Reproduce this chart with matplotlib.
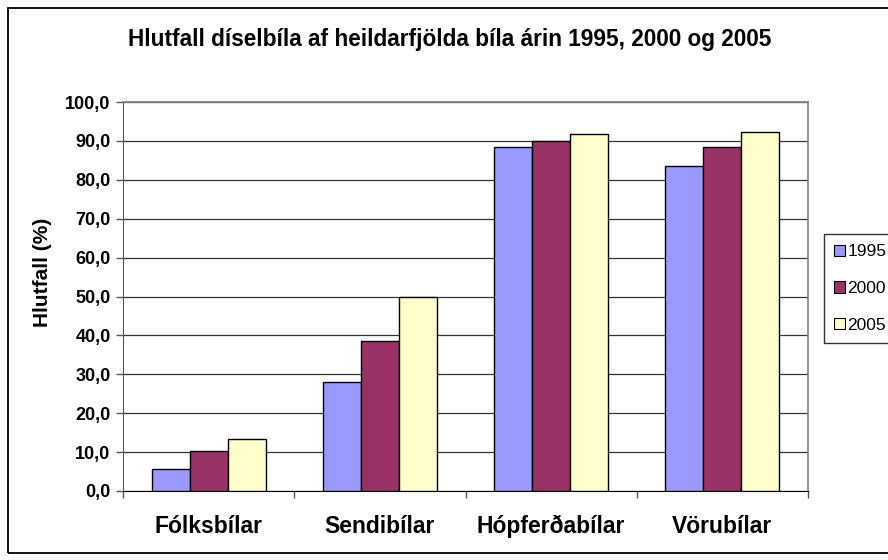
import numpy as np
import matplotlib.pyplot as plt
from matplotlib.patches import Rectangle, Patch
from matplotlib.ticker import FuncFormatter

plt.rcParams['font.family'] = ['Liberation Sans', 'DejaVu Sans']

# Gögn
flokkar = ['Fólksbílar', 'Sendibílar', 'Hópferðabílar', 'Vörubílar']
ar = ['1995', '2000', '2005']
gildi_1995 = [5.7, 27.9, 88.5, 83.5]
gildi_2000 = [10.3, 38.6, 90.0, 88.5]
gildi_2005 = [13.3, 49.8, 91.9, 92.2]
y_ticks = [0, 10, 20, 30, 40, 50, 60, 70, 80, 90, 100]

litir = ['#9999FF', '#993366', '#FFFFCC']
raðir = [gildi_1995, gildi_2000, gildi_2005]

W, H = 888, 560
fig = plt.figure(figsize=(W / 100, H / 100), dpi=100)
fig.patch.set_facecolor('white')

# Rammi utan um myndina (klipptur til hægri eins og í fyrirmyndinni)
fig.patches.append(Rectangle((8 / W, 1 - 553 / H), 900 / W, 545 / H,
                             transform=fig.transFigure, fill=False,
                             edgecolor='black', linewidth=1.3))

ax = fig.add_axes([123 / W, (H - 491) / H, 685 / W, 389 / H])

x = np.arange(len(flokkar))
b = 0.222
for i, (vals, c) in enumerate(zip(raðir, litir)):
    ax.bar(x + (i - 1) * b, vals, width=b, color=c, edgecolor='black',
           linewidth=1.0, zorder=3)

ax.set_xlim(-0.5, len(flokkar) - 0.5)
ax.set_ylim(0, 100)
ax.set_yticks(y_ticks)
ax.yaxis.set_major_formatter(FuncFormatter(lambda v, p: f'{v:.1f}'.replace('.', ',')))
ax.grid(axis='y', color='#333333', linewidth=0.9, zorder=0)

ax.set_xticks(x)
ax.set_xticklabels(flokkar, fontsize=16.5, fontweight='bold')
ax.set_xticks(np.arange(-0.5, len(flokkar)), minor=True)
ax.tick_params(axis='x', which='major', length=0, pad=17)
ax.tick_params(axis='x', which='minor', length=5, width=1, color='#555555', direction='out')
ax.tick_params(axis='y', length=5, width=1, color='#555555', direction='out', pad=4)
for lab in ax.get_yticklabels():
    lab.set_fontweight('bold')
    lab.set_fontsize(13)

for s in ['top', 'right']:
    ax.spines[s].set_color('#808080')
    ax.spines[s].set_linewidth(1.2)
ax.spines['left'].set_color('#555555')
ax.spines['bottom'].set_color('black')

ax.set_ylabel('Hlutfall (%)', fontsize=15, fontweight='bold')
ax.yaxis.set_label_coords(-0.104, 0.563)

fig.text(450 / W, 1 - 46 / H,
         'Hlutfall díselbíla af heildarfjölda bíla árin 1995, 2000 og 2005',
         ha='center', va='baseline', fontsize=16.3, fontweight='bold')

handles = [Patch(facecolor=c, edgecolor='black', linewidth=0.8) for c in litir]
leg = fig.legend(handles, ar, loc='upper left',
                 bbox_to_anchor=(824 / W, 1 - 234 / H),
                 fontsize=12.5, frameon=True, fancybox=False,
                 handlelength=0.6, handleheight=0.6, handletextpad=0.15,
                 labelspacing=1.25, borderpad=0.6, borderaxespad=0)
leg.get_frame().set_edgecolor('black')
leg.get_frame().set_linewidth(1.0)

plt.savefig('out.png', dpi=100)
plt.close()
